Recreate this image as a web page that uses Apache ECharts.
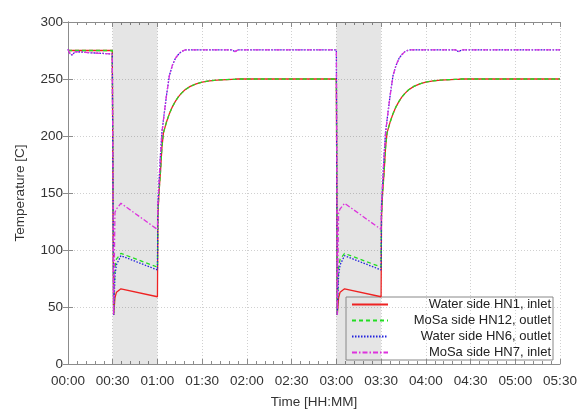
<!DOCTYPE html>
<html>
<head>
<meta charset="utf-8">
<script src="https://cdn.jsdelivr.net/npm/echarts@6/dist/echarts.min.js"></script>
<style>
html,body{margin:0;padding:0;background:#fff;}
#chart{width:577px;height:409px;}
</style>
</head>
<body>
<div id="chart"></div>
<script>
// Time in minutes since 00:00
var timeMin = [0, 1, 2.5, 5, 15, 29.7, 30, 30.6, 31.5, 32.5, 35.5, 60,
  60.3, 61, 62, 63, 64, 66, 68, 70, 72, 74, 76, 78.5, 82, 86, 90, 95, 100, 110, 112, 114,
  150, 180, 180.6, 181.5, 182.5, 185.5, 210,
  210.3, 211, 212, 213, 214, 216, 218, 220, 222, 224, 226, 228.5, 232, 236, 240, 245, 250, 260, 262, 264,
  300, 330];

var waterHN1Inlet = [275, 275, 275, 275, 275, 275, 275, 43, 58, 63, 66, 59,
  130, 150, 168, 190, 202.7, 212, 219.6, 225.6, 230.4, 234.3, 237.4, 240.5, 243.5, 245.8, 247.3, 248.4, 249.1, 249.7, 249.8, 250,
  250, 250, 43, 58, 63, 66, 59,
  130, 150, 168, 190, 202.7, 212, 219.6, 225.6, 230.4, 234.3, 237.4, 240.5, 243.5, 245.8, 247.3, 248.4, 249.1, 249.7, 249.8, 250,
  250, 250];

var mosaHN12Outlet = [275, 275, 275, 275, 275, 275, 275, 43, 85, 92, 97, 85,
  130, 150, 168, 190, 202.7, 212, 219.6, 225.6, 230.4, 234.3, 237.4, 240.5, 243.5, 245.8, 247.3, 248.4, 249.1, 249.7, 249.8, 250,
  250, 250, 43, 85, 92, 97, 85,
  130, 150, 168, 190, 202.7, 212, 219.6, 225.6, 230.4, 234.3, 237.4, 240.5, 243.5, 245.8, 247.3, 248.4, 249.1, 249.7, 249.8, 250,
  250, 250];

var waterHN6Outlet = [276, 273, 271, 274, 273, 272, 272, 43, 78, 87, 95, 82.5,
  140, 158, 183, 203, 214, 235, 253, 262, 268, 271.5, 274, 275.5, 275.5, 275.5, 275.5, 275.5, 275.5, 275.5, 274, 275.5,
  275.5, 275.5, 43, 78, 87, 95, 82.5,
  140, 158, 183, 203, 214, 235, 253, 262, 268, 271.5, 274, 275.5, 275.5, 275.5, 275.5, 275.5, 275.5, 275.5, 274, 275.5,
  275.5, 275.5];

var mosaHN7Inlet = [276, 273, 271, 274, 273, 272, 272, 43, 133, 136, 141, 118,
  140, 158, 183, 203, 214, 235, 253, 262, 268, 271.5, 274, 275.5, 275.5, 275.5, 275.5, 275.5, 275.5, 275.5, 274, 275.5,
  275.5, 275.5, 43, 133, 136, 141, 118,
  140, 158, 183, 203, 214, 235, 253, 262, 268, 271.5, 274, 275.5, 275.5, 275.5, 275.5, 275.5, 275.5, 275.5, 274, 275.5,
  275.5, 275.5];

var seriesNames = ['Water side HN1, inlet', 'MoSa side HN12, outlet', 'Water side HN6, outlet', 'MoSa side HN7, inlet'];
var bandStart = [30, 180];
var bandEnd = [60, 210];
var xTickMax = 330;
var yTickMax = 300;

function pairs(vals) {
  return timeMin.map(function (t, i) { return [t, vals[i]]; });
}
function hhmm(v) {
  var h = Math.floor(v / 60), m = Math.round(v % 60);
  return (h < 10 ? '0' : '') + h + ':' + (m < 10 ? '0' : '') + m;
}

var font = 'Liberation Sans, Arial, sans-serif';
var axisGray = '#8c8c8c';

var chart = echarts.init(document.getElementById('chart'), null, {renderer: 'canvas'});

var commonX = {
  type: 'value', min: 0, max: xTickMax, interval: 30,
  axisLine: {show: true, onZero: false, lineStyle: {color: axisGray, width: 1}},
  axisTick: {show: true, inside: true, length: 5, lineStyle: {color: axisGray}},
  minorTick: {show: true, splitNumber: 5, length: 3, lineStyle: {color: axisGray}}
};

var option = {
  animation: false,
  backgroundColor: '#fff',
  grid: {left: 68, right: 17, top: 22, bottom: 45, containLabel: false, outerBoundsMode: 'none'},
  xAxis: [
    Object.assign({}, commonX, {
      position: 'bottom',
      name: 'Time [HH:MM]', nameLocation: 'middle', nameGap: 31,
      nameTextStyle: {fontFamily: font, fontSize: 13.5, color: '#333'},
      axisLabel: {formatter: hhmm, fontFamily: font, fontSize: 13.5, color: '#333', margin: 10},
      splitLine: {show: true, lineStyle: {color: '#d0d0d0', type: [1, 2], width: 1}}
    }),
    Object.assign({}, commonX, {
      position: 'top',
      axisLabel: {show: false},
      splitLine: {show: false}
    })
  ],
  yAxis: [
    {
      type: 'value', min: 0, max: yTickMax, interval: 50, position: 'left',
      name: 'Temperature [C]', nameLocation: 'middle', nameGap: 41,
      nameTextStyle: {fontFamily: font, fontSize: 13.5, color: '#333'},
      axisLine: {show: true, lineStyle: {color: axisGray}},
      axisTick: {show: true, inside: true, length: 5, lineStyle: {color: axisGray}},
      axisLabel: {fontFamily: font, fontSize: 13.5, color: '#333', margin: 5},
      splitLine: {show: true, lineStyle: {color: '#d0d0d0', type: [1, 2], width: 1}}
    },
    {
      type: 'value', min: 0, max: yTickMax, interval: 50, position: 'right',
      axisLine: {show: true, lineStyle: {color: axisGray}},
      axisTick: {show: true, inside: true, length: 5, lineStyle: {color: axisGray}},
      axisLabel: {show: false},
      splitLine: {show: false}
    }
  ],
  legend: {
    orient: 'vertical', left: 346, top: 297,
    padding: [1, 2, 1, 5], itemGap: 3, itemWidth: 36, itemHeight: 13,
    borderColor: '#888', borderWidth: 1, backgroundColor: 'transparent',
    itemStyle: {opacity: 0},
    data: seriesNames,
    formatter: function (n) { return '{a|' + n + '}'; },
    textStyle: {
      fontFamily: font, fontSize: 13, color: '#222',
      rich: {a: {width: 158, align: 'right', fontFamily: font, fontSize: 13, color: '#222', lineHeight: 13}}
    }
  },
  series: [
    {
      name: seriesNames[0], type: 'line', data: pairs(waterHN1Inlet),
      symbol: 'none', showSymbol: false, z: 5,
      color: '#ee2222',
      lineStyle: {color: '#ee2222', width: 1.3, type: 'solid'},
      markArea: {
        silent: true,
        itemStyle: {color: 'rgba(0,0,0,0.1)'},
        data: bandStart.map(function (s, i) { return [{xAxis: s}, {xAxis: bandEnd[i]}]; })
      }
    },
    {
      name: seriesNames[1], type: 'line', data: pairs(mosaHN12Outlet),
      symbol: 'none', showSymbol: false, z: 6,
      color: '#22dd22',
      lineStyle: {color: '#22dd22', width: 1.3, type: [4, 3]}
    },
    {
      name: seriesNames[2], type: 'line', data: pairs(waterHN6Outlet),
      symbol: 'none', showSymbol: false, z: 7,
      color: '#2222dd',
      lineStyle: {color: '#2222dd', width: 1.3, type: [1.5, 1.5]}
    },
    {
      name: seriesNames[3], type: 'line', data: pairs(mosaHN7Inlet),
      symbol: 'none', showSymbol: false, z: 8,
      color: '#dd33dd',
      lineStyle: {color: '#dd33dd', width: 1.3, type: [5, 2, 1.5, 2]}
    }
  ]
};
chart.setOption(option);
</script>
</body>
</html>
